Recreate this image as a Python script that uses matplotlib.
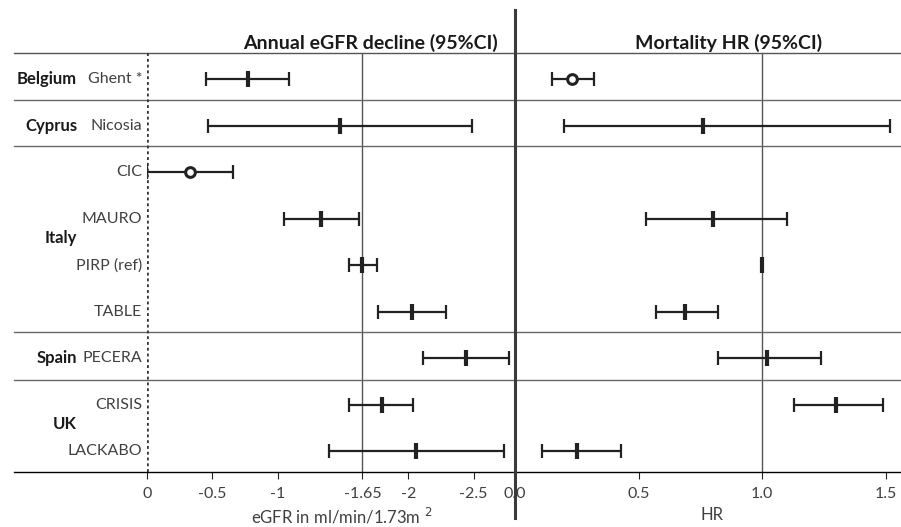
import numpy as np
import matplotlib.pyplot as plt

plt.rcParams['font.family'] = ['Lato', 'DejaVu Sans']

# study rows (top to bottom)
studies = ['Ghent *', 'Nicosia', 'CIC', 'MAURO', 'PIRP (ref)', 'TABLE', 'PECERA', 'CRISIS', 'LACKABO']
countries = ['Belgium', 'Cyprus', 'Italy', 'Spain', 'UK']
country_rows = [0, 1, 3.42, 6, 7.42]
separators = [0.45, 1.45, 5.44, 6.47]

# annual eGFR decline (ml/min/1.73m2)
egfr_est = [-0.77, -1.48, -0.33, -1.33, -1.65, -2.03, -2.44, -1.80, -2.06]
egfr_lo = [-0.45, -0.47, 0.00, -1.05, -1.55, -1.77, -2.11, -1.55, -1.39]
egfr_hi = [-1.09, -2.49, -0.66, -1.62, -1.76, -2.29, -2.77, -2.04, -2.73]
egfr_circle = ['CIC']
egfr_ticks = [0, -0.5, -1, -1.65, -2, -2.5]
egfr_ref = -1.65

# mortality HR
hr_est = [0.23, 0.76, np.nan, 0.80, 1.00, 0.69, 1.02, 1.30, 0.25]
hr_lo = [0.15, 0.20, np.nan, 0.53, 1.00, 0.57, 0.82, 1.13, 0.11]
hr_hi = [0.32, 1.52, np.nan, 1.10, 1.00, 0.82, 1.24, 1.49, 0.43]
hr_circle = ['Ghent *']
hr_ticks = [0.0, 0.5, 1.0, 1.5]
hr_ref = 1.0

W, H = 901, 527
fig = plt.figure(figsize=(W / 100, H / 100), dpi=100)

top, bot = 53, 472
x0, xmid = 147, 515
pxL, pxR = 130.6, 247.0   # pixels per unit
axL = fig.add_axes([x0 / W, 1 - bot / H, (xmid - x0) / W, (bot - top) / H])
axR = fig.add_axes([xmid / W, 1 - bot / H, (W - xmid) / W, (bot - top) / H])

rows = np.arange(len(studies))
ink = '#222222'
txt = '#404040'


def draw_forest(ax, est, lo, hi, circles):
    for i, name in enumerate(studies):
        if np.isnan(est[i]):
            continue
        if lo[i] != hi[i]:
            ax.plot([lo[i], hi[i]], [i, i], color=ink, lw=1.6, solid_capstyle='butt')
            ax.plot([lo[i], hi[i]], [i, i], ls='none', marker='|', ms=10, mew=1.6, color=ink)
        if name in circles:
            ax.plot(est[i], i, marker='o', ms=7, mfc='white', mec=ink, mew=2.2, zorder=5)
        else:
            ax.plot(est[i], i, marker='|', ms=11, mew=3, color=ink, zorder=5)


draw_forest(axL, egfr_est, egfr_lo, egfr_hi, egfr_circle)
draw_forest(axR, hr_est, hr_lo, hr_hi, hr_circle)

ylim = (8.45, -0.56)
axL.set_xlim(0, -(xmid - x0) / pxL)
axR.set_xlim(0, (W - xmid) / pxR)
for ax in (axL, axR):
    ax.set_ylim(*ylim)
    ax.set_yticks([])
    for s in ax.spines.values():
        s.set_visible(False)
    ax.tick_params(axis='x', direction='out', length=5, width=0.8, colors=ink,
                   labelcolor=txt, labelsize=11.5, pad=6)

axL.axvline(egfr_ref, color='#555555', lw=1.0, zorder=1)
axR.axvline(hr_ref, color='#555555', lw=1.0, zorder=1)
axL.axvline(0, color='#333333', lw=2.6, ls=(0, (0.8, 0.8)), zorder=6)

axL.set_xticks(egfr_ticks)
axL.set_xticklabels([f'{t:g}' for t in egfr_ticks])
axR.set_xticks(hr_ticks)
axR.set_xticklabels([f'{t:.1f}' for t in hr_ticks])

# horizontal rules across whole width
left_ext = -(x0 - 14) / (xmid - x0)
for y in separators:
    axL.axhline(y, xmin=left_ext, xmax=1, color='#666666', lw=1.0, clip_on=False)
    axR.axhline(y, color='#666666', lw=1.0)
axL.axhline(ylim[1], xmin=left_ext, xmax=1, color='#555555', lw=1.0, clip_on=False)
axR.axhline(ylim[1], color='#555555', lw=1.0, clip_on=False)
axL.axhline(ylim[0], xmin=left_ext, xmax=1, color='black', lw=1.0, clip_on=False)
axR.axhline(ylim[0], color='black', lw=1.0, clip_on=False)

# central divider
fig.add_artist(plt.Line2D([xmid / W, xmid / W], [1 - 518 / H, 1 - 10 / H],
                          color='#3a3a3a', lw=2.2))

# row labels (left of the zero line)
for i, name in enumerate(studies):
    axL.text((x0 - 142) / pxL, i, name, ha='right', va='center',
             fontsize=11.5, color=txt)
for c, r in zip(countries, country_rows):
    axL.text((x0 - 77) / pxL, r, c, ha='right', va='center',
             fontsize=12, fontweight='bold', color='#1a1a1a')

axL.set_title('Annual eGFR decline (95%CI)', fontsize=14, fontweight='bold',
              color='#1a1a1a', pad=3, x=(370 - x0) / (xmid - x0))
axR.set_title('Mortality HR (95%CI)', fontsize=14, fontweight='bold',
              color='#1a1a1a', pad=3, x=(729 - xmid) / (W - xmid))
axL.set_xlabel('eGFR in ml/min/1.73m $^{2}$', fontsize=12, color=txt, labelpad=4,
               x=(342 - x0) / (xmid - x0))
axR.set_xlabel('HR', fontsize=12, color=txt, labelpad=4, x=(712 - xmid) / (W - xmid))

fig.savefig('out.png', dpi=100)
